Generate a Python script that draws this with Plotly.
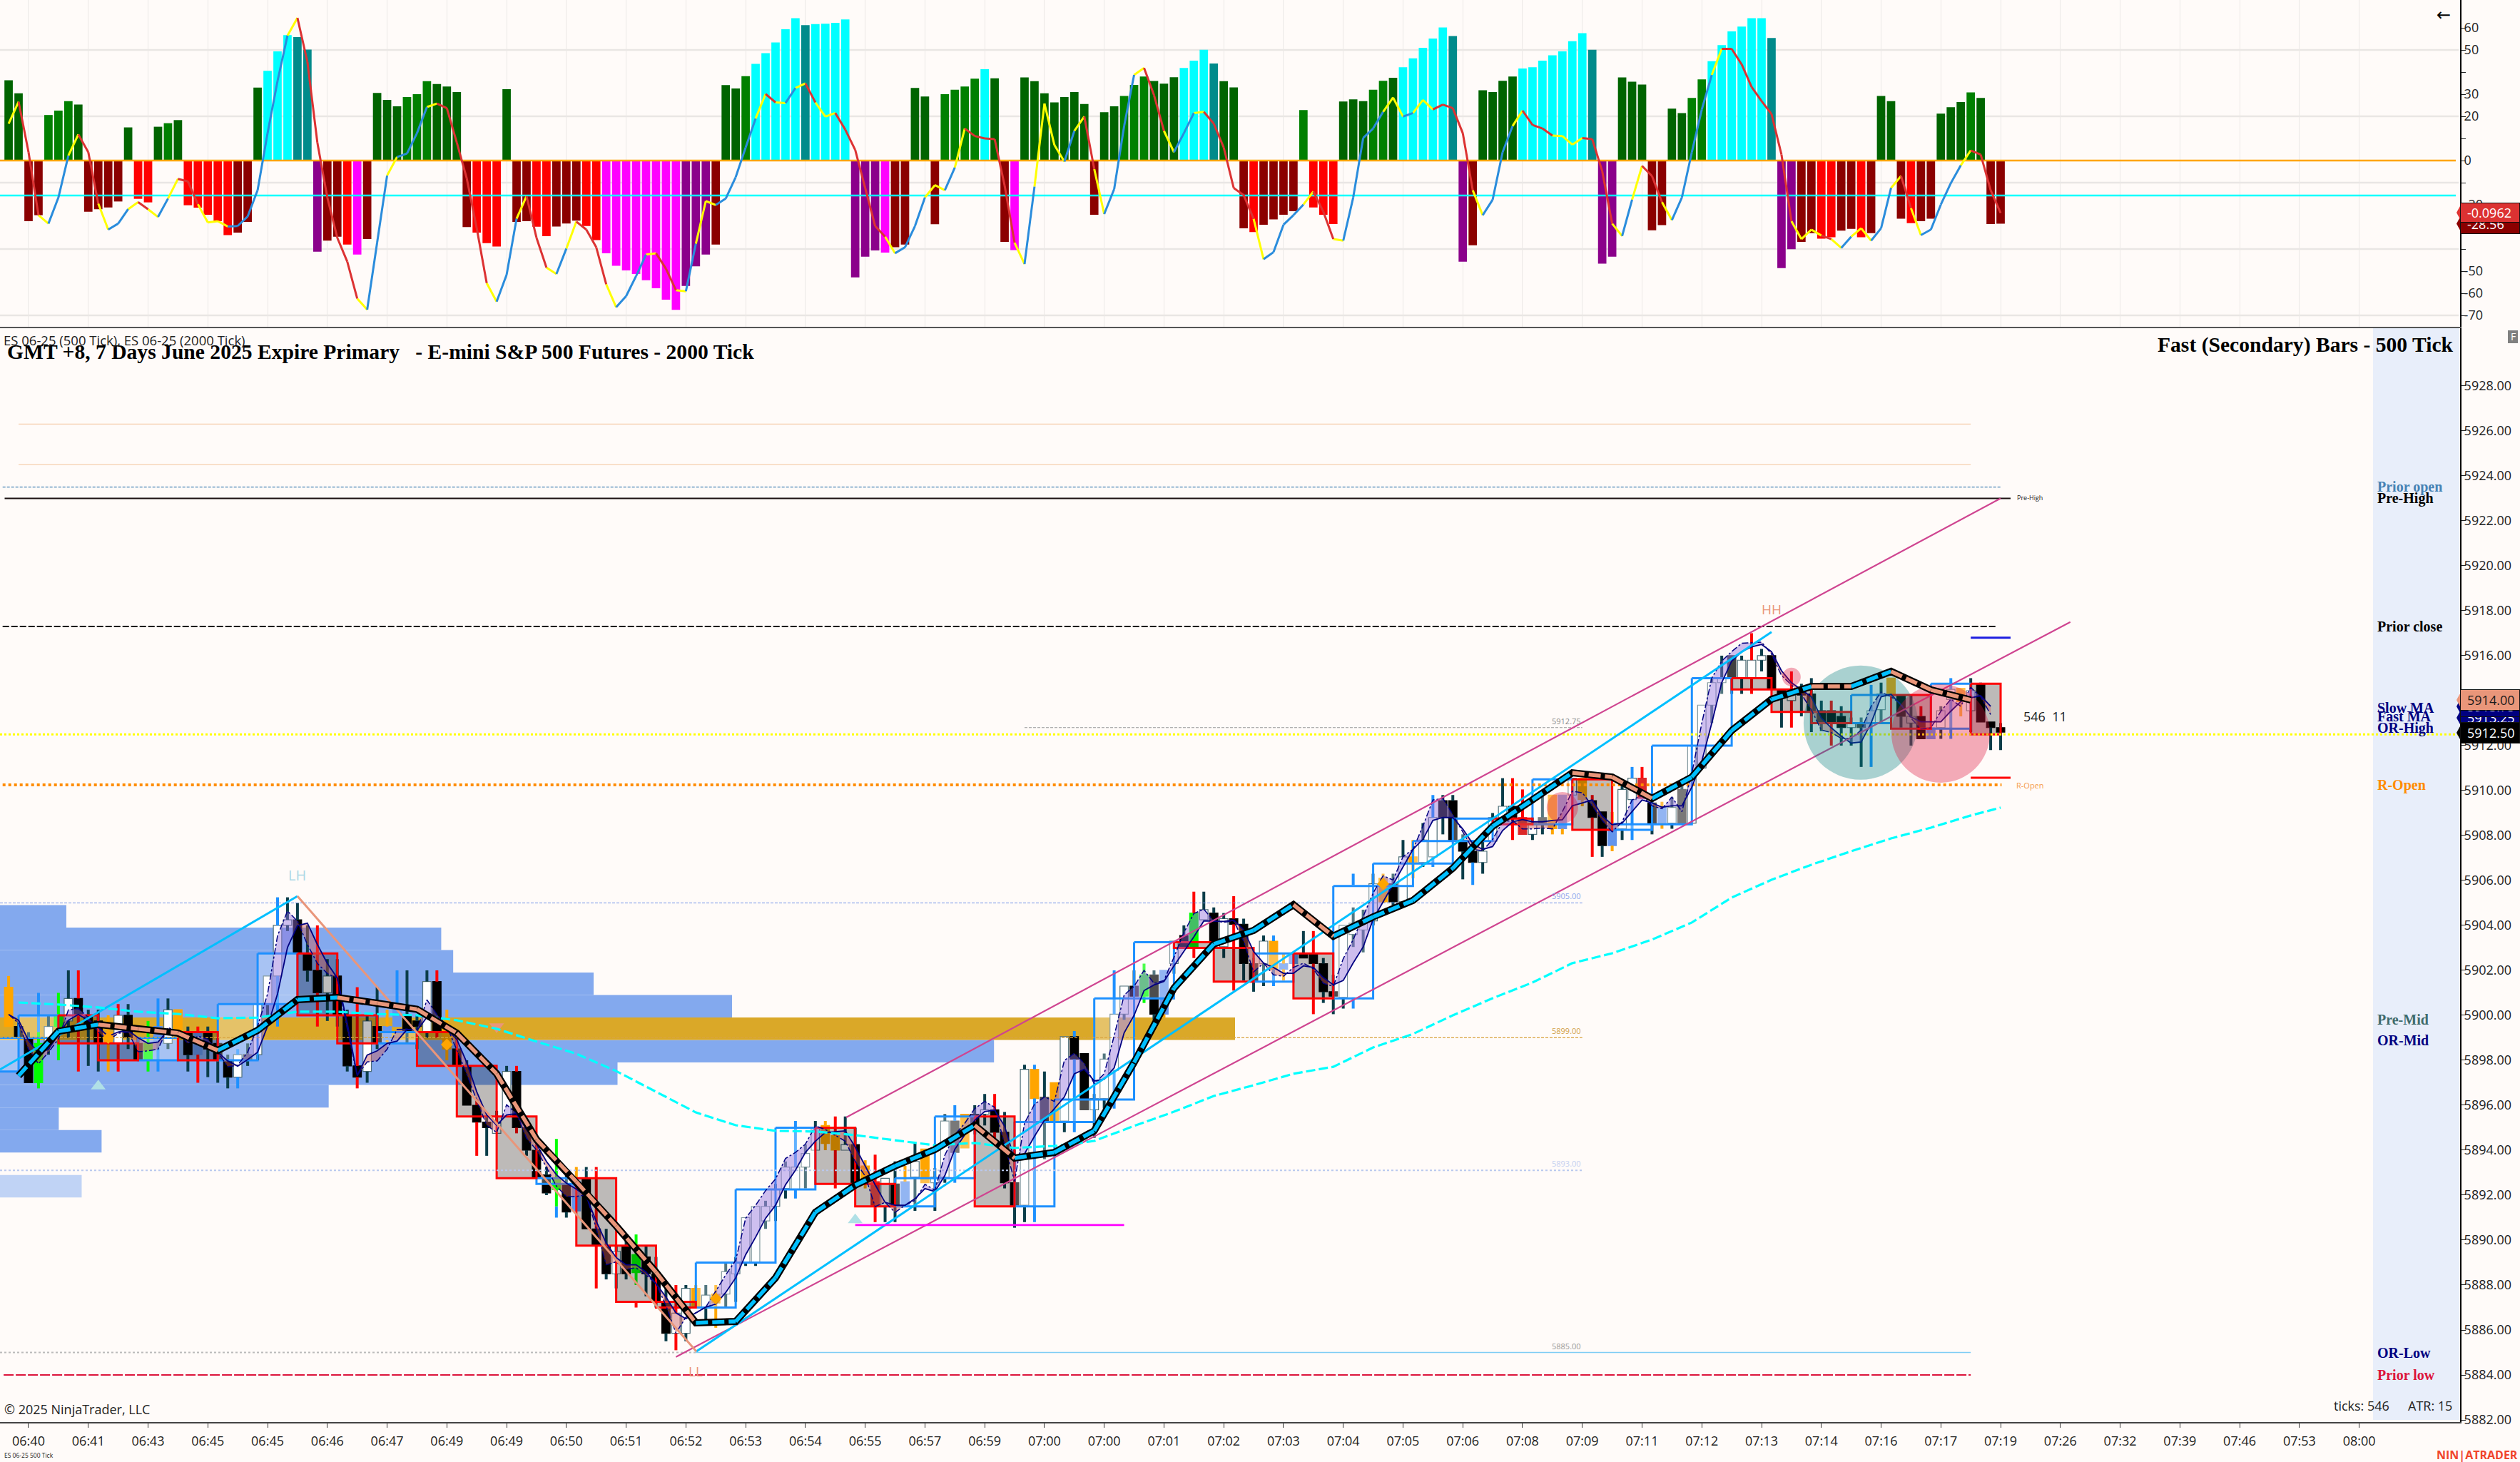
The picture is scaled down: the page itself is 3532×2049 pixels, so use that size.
import plotly.graph_objects as go

# ---------- indicator panel ----------
first_bar = -2
hist_vals = [
36.3,30.4,-27.4,-24.7,20.6,22.6,26.9,25.3,-23.1,-22,
-21.2,-18.5,15,-17.3,-18.9,15.3,16.9,18.3,-20.2,-21.3,
-24.5,-27.4,-33.7,-32.6,-27.7,33,40.6,49.4,56.7,55.8,
50.2,-41.2,-36.2,-34.4,-38,-42.5,-35.5,30.6,27.4,24.5,
28.7,30,35.9,34.6,33.5,31,-30.1,-32.6,-37.3,-38.9,
32.3,-27.7,-27.4,-29.9,-34.2,-29.8,-28.5,-27.2,-29.6,-36,
-41.9,-47.6,-49.7,-51.3,-54.1,-57.7,-62.9,-67.5,-56.7,-47.8,
-42.5,-38,34.1,32.6,38.2,43.7,48.6,53.4,59.4,64.4,
61.2,61.7,61.9,62.3,63.8,-52.8,-43.5,-40.6,-41.6,-39.2,
-38,32.8,29,-28.8,30,32,33.5,37,41.3,37.2,
-36.8,-40.5,37.6,35.9,30.4,26.3,28.7,31,25.6,-24.5,
21.9,24.5,29.2,34.2,38,36,34.8,37.7,41.9,45.2,
50.1,43.9,35.9,33.1,-30.6,-32.3,-29,-26.6,-24.5,-22.9,
22.8,-21.2,-24.5,-28.7,26.7,27.7,26.9,32,36.1,37.4,
42.2,46.2,51,55.2,60.2,56.3,-45.7,-38.3,31.8,31,
36.1,38,41.6,42.2,45.2,47.6,49.4,54,57.6,50.1,
-46.6,-43.5,37.6,35.7,34.4,-31.5,-29.2,23.5,21.5,28.3,
36.7,44.9,52.2,58.4,60.6,64.4,64.4,55.4,-48.6,-40.1,
-36.8,-32.8,-35.3,-34.7,-31.7,-30.9,-34.7,-32.8,29.2,26.9,
-26.3,-28.3,-27.4,-26.3,21.2,24.1,26.5,30.8,28.3,-28.7,-28.56]
hist_codes = ("DDRRGGGDRR" "RRDEEDGDEE" "EEERRDCCCT" "TPRREMRDDD" "GGGDDDREEE"
              "DRREERRREE" "MMMMMMMMPP" "PRDDGCCCCC" "TCCCCPPPMR" "RDDRGGGGCD"
              "RMDDDDDDDR" "DDGGGDDDCC" "CTDDRERRRR" "GEEEDDDGGD" "CCCCCTPRDD"
              "DDCCCCCCCT" "PPDDDRRDDG" "GCCCCCCTPP" "RREERRERDD" "RERRDDDGDRR")
osc_vals = [
16.7,26.6,3.8,-24.7,-28.5,-16.7,2.2,11.8,3.8,-19.4,
-31.2,-28.5,-22,-18.8,-22,-25.5,-17.2,-8.3,-9.4,-19.7,
-28,-27.4,-29.8,-29.6,-25.3,-13.4,12.4,36,56.5,64.5,
44.6,8.1,-16.7,-34.9,-45.7,-62.4,-67.4,-37.1,-6.8,1.6,
3.2,12.4,24.2,25.8,23.7,8.1,-8.1,-30.6,-55.4,-63.8,
-51.6,-26.3,-16.1,-34.9,-48.4,-51.3,-39.8,-27.6,-31.2,-39.2,
-55.9,-66.3,-61.3,-52.2,-42.5,-41.9,-48.9,-58.6,-59.1,-37.6,
-18.3,-20.1,-17.2,-7.5,5.9,19,30.1,26.3,26,32.8,
34.9,26.3,19.9,21.5,14,4.8,-12.4,-29.6,-34.4,-41.9,
-39.2,-29.6,-16.7,-11.1,-13.4,-3.2,14.5,11.1,10,9.7,
-11.3,-37.1,-46.8,-11.8,25.8,7,-0.5,13.4,19.9,-3.8,
-24.2,-12.9,15.6,38.7,41.9,29.6,13.4,3.8,12.4,21.5,
22,16.7,5.9,-12.4,-15.6,-26.3,-44.6,-41.4,-29,-24.7,
-19.9,-14,-23.1,-35.5,-36.2,-16.7,10.2,14.5,22,28.5,
19.9,21.5,27.4,23.1,25.3,23.7,12.4,-13.4,-24.7,-17.7,
3.8,15.6,22.6,16.1,14.5,11.3,11.1,7.2,10.2,9.7,
-4.8,-28.5,-34.1,-17.7,-2.4,-7,-18.8,-26.9,-16.7,3.8,
23.1,38.7,50.5,50.5,43.5,33.3,26.9,21,2.7,-27.4,
-35.5,-31.2,-33.9,-35.5,-39.5,-34.4,-30.6,-36.2,-30.6,-12.4,
-7,-21.5,-33.7,-31.2,-19.9,-10.2,-2.2,4.6,2.7,-13.4,-23.7]
osc_segments = ("YOOYBBYOOY" "BBYOYBYOOY" "YYBBBBBBYO" "OOOOOYBBYB" "BBYOOOOOYB"
                "BYOOYBYOOO" "YBBBYOOYBY" "YBBBBYOYBY" "OYYOOOOOYB" "BBYYBYOOOO"
                "OYBYYYBYOY" "BBBYOOYBBY" "OOOOOYBBBB" "YOOYBBBBYY" "BYYOOOOYBB"
                "BYOOOYYYOO" "OYBYOOYBBB" "BYOOOOOOOY" "YYOYBYYBBY" "OYBBBBYOOO")
osc_grid_levels = [50, 20, -10, -40, -70]
osc_tick_vals = [60, 50, 40, 30, 20, 10, 0, -10, -20, -30, -40, -50, -60, -70]
osc_tick_text = ["60", "50", "", "30", "20", "", "0", "", "-20", "-30", "", "-50", "-60", "-70"]
osc_zero = 0
osc_cyan_level = -15.8

# ---------- fast (500 tick) candles ----------
body_top = [
5901.25,5899.5,5899,5898.75,5899.5,5900,5900.75,5900.75,5900,5899.75,
5899.25,5900,5900,5898.75,5898.75,5899.5,5900.25,5900.25,5899.25,5899.25,
5899.25,5898.75,5898,5898.25,5898.25,5900.5,5901.75,5904,5904.25,5904.25,
5902.75,5902,5901.75,5901.75,5900,5897.75,5899.75,5899.5,5899.5,5900.25,
5900,5899.75,5901.5,5901.5,5899.5,5898.5,5897.75,5896,5895.25,5895.25,
5897.5,5897.5,5895,5894,5892.9,5892.75,5892.5,5892.6,5892.75,5890.5,
5889.75,5889.5,5889.75,5889.35,5889.25,5888.5,5887.25,5886.75,5887.85,5887.85,
5887.55,5887.6,5888.6,5889,5891,5891.5,5891.5,5892.25,5893.25,5893.25,
5893.85,5895,5895.1,5894.65,5894.25,5894.25,5893.3,5892.6,5892.75,5892.5,
5892.6,5893.5,5894.05,5892.8,5895.3,5895.3,5895.6,5895.6,5895.8,5895.8,
5894.8,5892.55,5897.6,5897.6,5896.35,5897,5899.05,5899.05,5898.3,5896.3,
5898.05,5900.05,5901.3,5901.3,5901.8,5901.8,5902,5903.3,5903.55,5904.55,
5904.7,5904.55,5904.3,5904.3,5904.05,5902.3,5903.3,5903.3,5902.3,5902.75,
5902.75,5902.75,5902.3,5901.05,5904,5904.1,5904.2,5905.85,5906.1,5905.85,
5907.05,5907.05,5907.8,5908.8,5909.55,5909.55,5907.8,5907.3,5907.3,5908.8,
5909.3,5909.3,5908.8,5908.55,5908.8,5909.8,5909.8,5910.55,5910.55,5909.55,
5909.05,5908.55,5910.05,5910.55,5910.55,5909.45,5909.25,5909.25,5910.05,5912,
5913.8,5914.8,5915,5916,5915.8,5915.8,5916,5916,5914.5,5914.3,
5914.6,5914.3,5913.55,5913.55,5913.3,5913,5913,5913.55,5914.3,5915,
5914.25,5913.3,5913.3,5912.8,5913.55,5914.5,5914.55,5914.45,5914.75,5913.05,5912.8]
body_bot = [
5899.5,5899,5897,5897,5898.75,5899.5,5899.75,5900,5899.5,5898.75,
5898.75,5898.75,5899,5898,5898,5898.75,5898.75,5899.25,5898.25,5898.25,
5898.5,5898,5897.25,5897.25,5898,5898.25,5900.5,5901.75,5904,5902.75,
5902,5901,5901,5900,5897.75,5897.25,5897.5,5898.75,5898.9,5899.5,
5899.25,5899.5,5899.25,5899.25,5898.5,5897.75,5896,5895.25,5895,5894.75,
5895.5,5895,5894,5892.75,5892.1,5892.25,5891.25,5891.3,5890.5,5889.75,
5888.5,5888.5,5888.5,5888.55,5888.5,5887.25,5885.85,5885.85,5885.85,5887,
5887,5887.2,5887.6,5888.5,5889,5889,5890.85,5891.5,5892.3,5892.25,
5893.25,5894,5894.3,5894,5894,5892.5,5892.5,5891.55,5891.5,5891.5,
5891.55,5892.8,5892.55,5892.55,5892.8,5893.9,5894.1,5895.1,5895.6,5894.8,
5892.55,5891.55,5891.55,5896.3,5895.3,5895.3,5895.3,5898.05,5895.8,5895.8,
5896.3,5897.55,5900.05,5900.85,5900.85,5900.05,5900.05,5902.3,5903.05,5903.05,
5904.25,5903.3,5903.05,5904.05,5902.3,5901.55,5902.3,5902.05,5902.05,5902.3,
5902.55,5902.3,5901.05,5900.85,5900.8,5903.6,5903.8,5904.2,5905.05,5905.05,
5905.05,5906.8,5906.8,5907.05,5908.8,5907.8,5907.3,5906.8,5906.8,5907.75,
5908.8,5908.8,5908.05,5908.05,5908.55,5908.3,5908.3,5909.8,5909.6,5908.8,
5907.55,5907.55,5908.3,5909.6,5909.65,5908.55,5908.55,5908.55,5908.55,5908.55,
5911,5913.8,5914.8,5915,5915,5915,5915.8,5914.5,5914.2,5914,
5914.25,5913.5,5913,5913,5912.8,5912.8,5912.8,5913,5913.6,5914.3,
5913.3,5913,5912.3,5912.3,5912.8,5914.05,5913.95,5913.55,5913.05,5912.8,5912.6]
wick_high = [
5901.75,5899.75,5899.25,5899.25,5900,5901,5902,5902,5900.25,5900.25,
5900,5900.5,5900.5,5899,5899.75,5900.75,5900.75,5900.25,5899.5,5899.5,
5899.5,5899,5898.25,5898.5,5898.75,5900.5,5901.75,5905.25,5905.25,5905,
5904,5904,5902.5,5902.5,5900.25,5901.25,5900,5901.25,5900.25,5902,
5902,5900,5902,5902,5900.25,5899.25,5898,5896.25,5895.5,5895.75,
5897.75,5897.75,5895.25,5894.25,5893.25,5894.5,5893,5893.25,5893.25,5893.25,
5890.5,5889.75,5890,5890.25,5889.75,5889.25,5888,5888,5888,5888,
5888,5888,5889,5889.25,5891,5891.5,5891.75,5892.5,5893.5,5895.3,
5894.25,5895.3,5895.3,5895.5,5895.5,5895,5893.55,5893.8,5892.75,5893.5,
5893.3,5894.3,5894.05,5893.2,5895.6,5896,5895.6,5896,5896.5,5896.5,
5895.7,5894,5897.8,5897.8,5897.5,5897,5899.05,5899.3,5898.3,5896.5,
5898.3,5902,5901.3,5902,5902.3,5902,5902,5903.3,5904,5905.5,
5905.5,5904.8,5904.55,5905.3,5904.3,5902.55,5903.55,5903.55,5902.75,5902.75,
5903.75,5903.75,5902.55,5901.8,5904,5904.8,5904.7,5906.3,5906.3,5906.3,
5907.8,5907.8,5908.55,5909.8,5909.8,5909.8,5908.05,5907.5,5907.8,5909,
5910.55,5910.55,5910.05,5908.8,5909.8,5909.8,5909.8,5910.55,5910.55,5909.8,
5909.05,5909.05,5910.3,5911.05,5911.05,5909.65,5909.5,5909.7,5910.3,5912,
5913.8,5915.05,5916,5916,5916,5917,5916.3,5916,5914.5,5915.3,
5914.75,5915,5914,5914,5913.75,5913.25,5913.25,5914.7,5914.8,5915,
5914.25,5914.25,5913.75,5912.8,5913.75,5915,5914.55,5915,5914.8,5913.05,5913]
wick_low = [
5899.5,5899,5897,5896.75,5898.25,5898,5899,5897.5,5897.75,5897.5,
5897.5,5897.5,5898.5,5898,5897.5,5897.5,5898.5,5899.25,5897.5,5897,
5897.25,5897,5896.75,5896.75,5897.75,5898,5900,5899.5,5903.75,5902.75,
5901.5,5899.5,5899.75,5899.5,5897.5,5896.75,5897,5898.5,5898.75,5899.5,
5898.75,5898.5,5899,5899,5898,5897.75,5896,5893.75,5893.75,5894.75,
5895.5,5894.75,5893.75,5892.75,5892,5891.5,5891,5891.3,5890.5,5887.85,
5888.25,5887.85,5888.25,5888,5887.5,5887,5885.5,5885.1,5885.5,5887,
5886.25,5886.1,5887,5887.25,5888.85,5888.85,5890.5,5890.85,5891.85,5891.85,
5892.3,5894,5894,5892.3,5894,5892.5,5892.3,5890.8,5890.8,5890.8,
5891.55,5891.3,5892.55,5891.3,5892.55,5892.55,5894.1,5894.7,5895.1,5894.35,
5892.3,5890.55,5890.8,5890.8,5893.6,5895.3,5894.8,5894.8,5895.8,5894.55,
5895.85,5895.85,5899.8,5900.85,5900.55,5899.8,5899.9,5901.85,5903.05,5902.55,
5904.25,5903.05,5902.55,5901.1,5901.55,5901.05,5901.3,5901.3,5901.55,5902.3,
5902.55,5900.05,5900.55,5900.05,5900.3,5903.04,5902.8,5904,5905,5904.9,
5905.05,5906.1,5906.6,5906.6,5908.05,5907.8,5906.05,5905.8,5906.3,5907.75,
5908.55,5907.8,5908.05,5907.8,5908.05,5908.05,5908.05,5909.8,5909.3,5907.05,
5907.05,5907.3,5907.8,5907.8,5909.65,5908.05,5908.3,5908.3,5908.55,5908.55,
5911,5913,5914.3,5914.3,5914.3,5914.3,5915.3,5914.5,5912.8,5912.8,
5913.3,5912.6,5912.65,5912,5912,5912,5911.05,5911.05,5913,5914.3,
5912.8,5912,5912.3,5912.3,5912.3,5912.3,5913.3,5912.6,5913.05,5911.8,5911.8]
body_codes = ("OKKGWGWKKK" "OWKKGBWOKB" "KKKWDWWWWK" "KKWKKKWKBB" "KKWKOKKKKW"
              "WKKKKGKBKK" "KWKGKKKWWO" "WOWWWWWWWW" "WWOOWKORWK" "BWOWWDOKWK"
              "KKWODOWKKW" "WWWKGKBWKG" "WKWKKKWOBB" "KKKKWWWWOK" "WOWWKKKKWW"
              "WKRWDOBWOK" "KBWWRKBWDW" "WWWDWWWKKW" "KKKKKWDWWO" "KWKBWWOWKKK")
wick_codes = ("ottgtgtrtt" "orttgbtotr" "tttbtttbtt" "trtttrttob" "tttrottrtt"
              "trtttgtotr" "tttgtttrto" "totttttttb" "ttorttortt" "otottbottr"
              "tttbtotbtt" "tbttgtottr" "tttrtttbob" "trttttttot" "totbtttbtt"
              "trrttootor" "totbrtottt" "tttttrtttr" "tttrtttbto" "ttrotbotttt")
extra_wick_bar = [1, 53, 61, 133, 133]
extra_wick_low = [5899.25, 5891, 5887, 5905.8, 5900.3]
extra_wick_high = [5901, 5891.5, 5887.3, 5906.3, 5900.8]
extra_wick_code = "bbrbb"

# ---------- primary (2000 tick) boxes ----------
box_first = -5
box_top = [5899,5900,5900,5898.75,5899,5899.25,5900.5,5902.75,5902.75,5900,5899.25,5899.25,5897.75,
           5895.5,5892.75,5892.75,5889.75,5887.25,5889,5892.25,5895,5895,5892.5,5892.75,5895.5,5895.5,
           5895.25,5896.25,5900.75,5903.25,5903.25,5903,5902.75,5902.75,5905.75,5906.75,5907.75,5908.75,
           5908.75,5910.5,5910.5,5908.5,5912,5915,5915,5914.5,5913.5,5914.25,5914.25,5914.75,5914.75]
box_bot = [5897.5,5899,5898.75,5898,5898,5898,5898,5900.5,5900,5898.75,5898.75,5897.75,5895.5,
           5892.75,5892.5,5889.75,5887.25,5887,5887,5889,5892.25,5892.5,5891.5,5891.5,5892.75,5891.5,
           5891.5,5895.25,5896.25,5900.75,5903,5901.5,5901.5,5900.75,5900.75,5905.75,5906.75,5907.75,
           5908.5,5908.5,5908.25,5908.25,5908.5,5912,5914.5,5913.5,5913,5913,5912.75,5912.75,5912.5]
box_codes = "BBRRBRBBRRBRRRBRRRBBBRRBBRBBBBRRBRBBBBRBRBBBRRRBRBR"
last_bar = 198

# ---------- moving averages ----------
ma_first = -1
fast_ma = [5897.31,5899.29,5899.59,5899.40,5899.21,5898.44,5899.33,5900.70,5900.79,5900.54,5900.27,
           5899.21,5897.40,5894.48,5892.60,5890.63,5888.57,5886.32,5886.38,5888.32,5891.24,5892.44,
           5893.30,5894.03,5895.11,5893.65,5893.90,5894.86,5897.90,5901.21,5903.17,5903.78,5904.92,
           5903.52,5904.38,5905.11,5906.54,5908.41,5909.59,5910.79,5910.60,5909.65,5910.60,5912.67,
           5914.06,5914.63,5914.63,5915.30,5914.48,5914.03]
slow_ma = [5900.57,5900.48,5900.35,5900.16,5900.06,5899.87,5899.90,5900.16,5900.16,5900.06,5900.00,
           5899.78,5899.40,5898.83,5898.29,5897.52,5896.60,5895.68,5895.11,5894.86,5894.83,5894.67,
           5894.44,5894.22,5894.32,5894.10,5894.19,5894.41,5895.08,5895.71,5896.41,5896.89,5897.40,
           5897.71,5898.57,5899.17,5900.00,5900.76,5901.46,5902.32,5902.76,5903.37,5904.13,5905.24,
           5906.03,5906.70,5907.30,5907.87,5908.35,5908.89]
slow_ma_last = 5909.24

band_dash = [
5900.04,5899.65,5898.49,5897.84,5898.36,5898.94,5900.24,5900.3,5899.91,5899.26,
5898.88,5899.2,5899.26,5898.38,5898.42,5898.49,5899.46,5899.26,5898.75,5899.07,
5898.94,5898.36,5897.71,5897.78,5898.36,5899.52,5900.95,5903.54,5904.64,5904.19,
5903.15,5902.31,5901.86,5901.66,5899.39,5897.32,5897.93,5897.97,5898.49,5899.37,
5899.39,5899.33,5900.69,5900.04,5899.52,
5898.48,5897.38,5896.22,5895.11,5894.79,5896.02,5895.63,5894.53,5894.01,5893.24,
5892.4,5891.94,5891.94,5892.01,5890.52,5888.9,5889.03,5888.7,5888.77,5888.45,
5888.06,5887.09,5885.86,5886.57,5886.76,5887.02,5887.73,5888.45,5889.1,5890.97,
5891.55,5892.2,5892.72,5893.63,5893.9,5894.27,5895.08,5894.92,5894.66,5894.4,
5893.5,5892.85,5891.49,5891.68,5891.23,5891.55,
5891.77,5892.48,5892.22,5893.78,5894.68,5895.2,5895.85,5896.17,5895.91,5894.3,
5892.61,5895.2,5896.04,5896.37,5896.17,5897.99,5898.31,5897.86,5896.95,5897.4,
5899.09,5900.9,5901.29,5902.0,5901.42,5901.55,5902.58,5903.68,5904.53,5904.72,
5904.2,5904.14,5904.2,5903.3,5901.93,5902.32,5901.8,5901.74,5902.13,5902.32,
5902.07,5901.42,
5901.29,5902.52,5903.37,5904.4,5905.44,5906.21,5906.02,5907.06,5907.38,5908.42,
5909.58,5909.65,5908.93,5908.16,5907.38,5907.32,5907.83,5908.61,5908.67,5908.29,
5908.29,5908.33,5908.29,5909.06,5909.97,5909.9,5909.32,5908.67,5908.16,5908.61,
5909.58,5909.78,5909.32,5909.19,5909.71,5909.06,
5910.78,5913.0,5915.0,5915.76,5916.18,5916.55,5916.58,5916.6,5916.07,5915.12,
5914.7,5914.28,5913.59,5912.69,5912.58,5912.32,5912.32,5912.69,5913.75,5914.38,
5914.17,5913.85,5913.22,5912.74,5912.79,5913.53,5914.06,5913.75,5914.59,5914.17,5913.38]
band_solid = [
5900.04,5899.78,5898.88,5898.3,5898.49,5899.14,5899.78,5900.04,5899.78,5899.46,
5899.07,5899.26,5899.33,5899.0,5898.75,5898.81,5899.33,5899.26,5898.88,5898.94,
5898.81,5898.36,5897.97,5897.74,5898.03,5898.36,5899.52,5900.95,5903.02,5903.99,
5904.1,5903.15,5902.31,5901.66,5899.65,5897.32,5898.23,5898.42,5898.75,5898.85,
5899.37,5899.33,5899.91,5899.78,5899.39,
5898.93,5897.9,5896.6,5895.57,5895.11,5895.57,5895.63,5894.92,5894.27,5893.5,
5892.91,5892.53,5892.27,5891.94,5890.84,5889.87,5889.22,5888.9,5888.9,5888.58,
5888.06,5887.47,5886.76,5886.5,5886.76,5887.02,5887.15,5887.67,5888.32,5889.35,
5890.13,5890.97,5891.55,5892.46,5893.11,5893.9,5894.4,5894.79,5894.82,5894.86,
5894.14,5893.3,5892.46,5891.68,5891.55,5891.55,
5891.84,5892.29,5892.16,5892.87,5894.04,5894.68,5895.33,5895.72,5895.78,5895.07,
5893.58,5893.84,5894.62,5895.33,5895.85,5896.37,5897.4,5897.6,5897.08,5897.15,
5897.66,5899.22,5900.0,5901.1,5901.35,5901.51,5902.2,5902.84,5903.49,5904.2,
5904.2,5904.18,5904.24,5903.81,5902.84,5902.32,5902.13,5901.87,5901.87,5902.2,
5902.13,5901.68,
5901.36,5901.55,5902.33,5903.04,5904.27,5905.05,5905.83,5906.6,5907.38,5907.83,
5908.67,5908.8,5908.8,5908.29,5907.64,5907.38,5907.51,5908.22,5908.61,5908.71,
5908.61,5908.61,5908.67,5908.7,5909.32,5909.45,5909.58,5908.87,5908.48,5908.55,
5909.06,5909.58,5909.45,5909.26,5909.32,5909.32,
5910.15,5911.31,5913.0,5914.8,5915.76,5916.18,5916.39,5916.5,5916.18,5915.33,
5914.8,5914.49,5914.17,5913.22,5912.79,5912.42,5912.11,5912.16,5913.0,5914.17,
5914.28,5913.8,5913.27,5913.06,5913.06,5913.06,5913.53,5913.96,5914.12,5914.22,5913.75]

# ---------- volume profile ----------
profile_top = [5904.9,5903.9,5902.9,5901.9,5900.9,5898.9,5897.9,5896.9,5895.9,5894.9]
profile_bars = [6.66,44.3,45.5,59.6,73.5,99.8,62,33,5.9,10.2]
poc_top, poc_bars = 5899.9, 124
low_node_top, low_node_bars = 5892.9, 8.2

# ---------- levels: price, from bar, to bar, colour, width, dash ----------
lvl_price = [5926.3,5924.5,5923.5,5923.0,5917.3,5912.8,5905.0,5899.0,5893.1,5885.0,5885.0,5884.0,5910.25,5912.5]
lvl_from  = [-1,-1,-2.6,-2.4,-2.6,100,-2.865,-2.865,-2.865,-2.865,67,-2.5,-2.6,-2.865]
lvl_to    = [195,195,198,199,197.5,156,156,156,156,67,195,195,198.1,244]
lvl_color = ["#f6cfae","#f6cfae","#4682b4","#1a1010","#000000","#999999","#6f90e6","#d9a441","#b9c8ee",
             "#bbbbbb","#7fcdf5","#dc143c","#ff8c00","#ffff00"]
lvl_width = [1.2,1.2,1.2,2,2,1,1,1.2,2,2,1.5,2,4,3]
lvl_dash  = ["solid","solid","4px,2px","solid","9px,3px","4px,2px","4px,2px","4px,2px","dot","dot","solid","14px,3px","dot","dot"]
lvl_text = ["5912.75","5905.00","5899.00","5893.00","5885.00"]
lvl_text_price = [5912.8,5905.0,5899.0,5893.1,5885.0]
lvl_text_color = ["#8c8c8c","#8fa9ee","#d2a04a","#c3cff0","#9a9a9a"]

channel_upper_x, channel_upper_y = [82.1,198], [5895.46,5923]
channel_lower_x, channel_lower_y = [65,205], [5884.8,5917.5]
trend1_x, trend1_y = [-2.865,27], [5897.59,5905.3]
trend2_x, trend2_y = [67.05,175], [5885.05,5917.05]
fall_x, fall_y = [27,67.05], [5905.3,5885.05]
mag_x, mag_y = [83,110], [5890.67,5890.67]
stop_x = [195,199]
stop_blue, stop_red = 5916.8, 5910.57

circle_x = [183.95,191.98,177,154]
circle_y = [5913.02,5912.54,5915.05,5909.24]
circle_d = [160,138,26,44]
circle_c = ["rgba(0,128,128,0.48)","rgba(220,20,60,0.5)","rgba(220,20,60,0.5)","rgba(220,20,60,0.5)"]
tri_up_x, tri_up_y = [7,83], [5896.85,5890.9]
tri_dn_x, tri_dn_y = [47,], [5899.5,]
diamond_x = [8,42,69,136]
diamond_y = [5899.0,5898.7,5887.4,5905.85]

time_labels = ["06:40","06:41","06:43","06:45","06:45","06:46","06:47","06:49","06:49","06:50","06:51",
               "06:52","06:53","06:54","06:55","06:57","06:59","07:00","07:00","07:01","07:02","07:03",
               "07:04","07:05","07:06","07:08","07:09","07:11","07:12","07:13","07:14","07:16","07:17",
               "07:19","07:26","07:32","07:39","07:46","07:53","08:00"]
time_tick_step = 6
price_ticks = list(range(5882, 5930, 2))

side_text = ["Prior open","Pre-High","Prior close","Slow MA","Fast MA","OR-High","R-Open","Pre-Mid","OR-Mid","OR-Low","Prior low"]
side_price = [5923.5,5923.0,5917.3,5913.68,5913.3,5912.79,5910.25,5899.8,5898.9,5885.0,5884.0]
side_color = ["#4682b4","#000000","#000000","#000080","#000080","#000080","#ff8c00","#3f6b6b","#000080","#000080","#dc143c"]

flag_text = ["-28.56","-0.0962","5913.25","5913.75","5914.00","5912.50"]
flag_fill = ["#8b0000","#dc3232","#000080","#000080","#e9967a","#000000"]
flag_font = ["#ffffff","#ffffff","#ffffff","#ffffff","#1a1a1a","#ffffff"]
flag_ypx = [313.5,298,1006,990,981,1027]
flag_h = [27,26,28,28,28,28]

assert len(hist_vals) == 201 and len(hist_codes) == 201 and len(osc_vals) == 201
assert len(osc_segments) == 200
for a in (body_top, body_bot, wick_high, wick_low):
    assert len(a) == 201, len(a)
assert len(body_codes) == 201 and len(wick_codes) == 201
assert len(band_dash) == 200, len(band_dash)
assert len(band_solid) == 200, len(band_solid)
assert len(box_top) == len(box_bot) == len(box_codes), (len(box_top), len(box_bot), len(box_codes))

# ---------- styles ----------
BG = "#fffbf9"
HIST = dict(D="#006400", G="#008000", R="#8b0000", E="#ff0000", M="#ff00ff", P="#8b008b", C="#00ffff", T="#008b8b")
OSC = dict(Y="#ffff00", O="#dc3232", B="#2a8cdc")
BODY = dict(K="#000000", W="#ffffff", O="#ffa500", G="#00ff00", B="#6495ed", R="#dc2828", D="#404040")
WICK = dict(t="#0b3d49", r="#ff0000", b="#1e90ff", g="#00ff00", o="#ffa500")
W, H, PLOT_W, PLOT_H = 3532, 2049, 3448, 1993
SANS = "Open Sans, sans-serif"
SERIF = "Liberation Serif, serif"
bars = list(range(first_bar, first_bar + 201))
XR = [-2.865, 244.13]


def px(xp):
    return xp / PLOT_W


def py(yp):
    return (PLOT_H - yp) / PLOT_H


fig = go.Figure()
M = dict(xaxis="x", yaxis="y", hoverinfo="skip", showlegend=False)
O_ = dict(xaxis="x2", yaxis="y2", hoverinfo="skip", showlegend=False)

# indicator panel
fig.add_bar(x=bars, y=hist_vals, width=0.84, marker=dict(color=[HIST[c] for c in hist_codes], line_width=0), **O_)
fig.add_scatter(x=[XR[0], 243.7], y=[osc_cyan_level] * 2, mode="lines", line=dict(color="#00ffff", width=2.4), **O_)
fig.add_scatter(x=[XR[0], 243.7], y=[osc_zero] * 2, mode="lines", line=dict(color="#ffa500", width=2.6), **O_)
for code, col in OSC.items():
    xs, ys = [], []
    for k, c in enumerate(osc_segments):
        if c == code:
            xs += [bars[k], bars[k + 1], None]
            ys += [osc_vals[k], osc_vals[k + 1], None]
    fig.add_scatter(x=xs, y=ys, mode="lines", line=dict(color=col, width=3), **O_)

# candle bodies
fig.add_bar(x=bars, y=[t - b for t, b in zip(body_top, body_bot)], base=body_bot, width=0.84,
            marker=dict(color=[BODY[c] for c in body_codes],
                        line=dict(color=["#4f6f78" if c == "W" else BODY[c] for c in body_codes], width=1.2)), **M)
# wicks (either side of the body)
for code, col in WICK.items():
    xs, ys = [], []
    for k, c in enumerate(wick_codes):
        if c == code:
            if wick_high[k] > body_top[k]:
                xs += [bars[k], bars[k], None]
                ys += [wick_high[k], body_top[k], None]
            if wick_low[k] < body_bot[k]:
                xs += [bars[k], bars[k], None]
                ys += [body_bot[k], wick_low[k], None]
    for k, c in enumerate(extra_wick_code):
        if c == code:
            xs += [extra_wick_bar[k], extra_wick_bar[k], None]
            ys += [extra_wick_low[k], extra_wick_high[k], None]
    fig.add_scatter(x=xs, y=ys, mode="lines", line=dict(color=col, width=4), **M)

# 2000 tick boxes
for code, fill, col in (("B", "rgba(255,255,255,0.3)", "#1e90ff"), ("R", "rgba(0,0,0,0.26)", "#ff0000")):
    xs, ys = [], []
    for k, c in enumerate(box_codes):
        if c == code:
            a = box_first + 4 * k
            b = min(a + 4, last_bar)
            xs += [a, b, b, a, a, None]
            ys += [box_top[k], box_top[k], box_bot[k], box_bot[k], box_top[k], None]
    fig.add_scatter(x=xs, y=ys, mode="lines", fill="toself", fillcolor=fill, line=dict(color=col, width=3), **M)

# levels
for p, a, b, c, w, d in zip(lvl_price, lvl_from, lvl_to, lvl_color, lvl_width, lvl_dash):
    fig.add_scatter(x=[a, b], y=[p, p], mode="lines", line=dict(color=c, width=w, dash=d), **M)

# purple / salmon band
band_x = bars[:200]
for rising, fill in ((True, "rgba(147,112,219,0.45)"), (False, "rgba(205,92,92,0.45)")):
    xs, ys = [], []
    for k in range(199):
        up = band_dash[k] + band_dash[k + 1] >= band_solid[k] + band_solid[k + 1]
        if up == rising:
            xs += [band_x[k], band_x[k + 1], band_x[k + 1], band_x[k], band_x[k], None]
            ys += [band_dash[k], band_dash[k + 1], band_solid[k + 1], band_solid[k], band_dash[k], None]
    fig.add_scatter(x=xs, y=ys, mode="lines", fill="toself", fillcolor=fill, line=dict(width=0), **M)
fig.add_scatter(x=band_x, y=band_dash, mode="lines", line=dict(color="#000080", width=1.5, dash="dashdot"), **M)
fig.add_scatter(x=band_x, y=band_solid, mode="lines", line=dict(color="#000080", width=1.8), **M)

# channel and swing lines
for xs, ys, c, w in ((channel_upper_x, channel_upper_y, "#cf4490", 2.2), (channel_lower_x, channel_lower_y, "#cf4490", 2.2),
                     (trend1_x, trend1_y, "#00bfff", 3), (trend2_x, trend2_y, "#00bfff", 3),
                     (fall_x, fall_y, "#e9967a", 3), (mag_x, mag_y, "#ff00ff", 2.6),
                     (stop_x, [stop_blue] * 2, "#1c1ce0", 3), (stop_x, [stop_red] * 2, "#ff0000", 3)):
    fig.add_scatter(x=xs, y=ys, mode="lines", line=dict(color=c, width=w), **M)

# circles, markers
fig.add_scatter(x=circle_x, y=circle_y, mode="markers",
                marker=dict(size=circle_d, color=circle_c, line_width=0), **M)
fig.add_scatter(x=tri_up_x, y=tri_up_y, mode="markers", marker=dict(symbol="triangle-up", size=18, color="#b0e0e6", line_width=0), **M)
fig.add_scatter(x=tri_dn_x, y=tri_dn_y, mode="markers", marker=dict(symbol="triangle-down", size=18, color="#e9967a", line_width=0), **M)
fig.add_scatter(x=diamond_x, y=diamond_y, mode="markers", marker=dict(symbol="diamond", size=13, color="#ffa500", line_width=0), **M)

# slow MA
slow_x = [ma_first + 4 * k for k in range(len(slow_ma))] + [last_bar]
fig.add_scatter(x=slow_x, y=slow_ma + [slow_ma_last], mode="lines",
                line=dict(color="#00ffff", width=3.2, dash="13px,5px"), **M)
# fast MA
ma_x = [ma_first + 4 * k for k in range(len(fast_ma))]
fig.add_scatter(x=ma_x, y=fast_ma, mode="lines", line=dict(color="#000000", width=10), **M)
for col, test in (("#00bfff", lambda a, b: b >= a), ("#e9967a", lambda a, b: b < a)):
    xs, ys = [], []
    for k in range(len(fast_ma) - 1):
        a_, b_ = fast_ma[k], fast_ma[k + 1]
        flat = k == 45  # flat leg drawn with the falling colour
        if (test(a_, b_) and not flat) or (flat and col == "#e9967a"):
            xs += [ma_x[k], ma_x[k + 1], None]
            ys += [a_, b_, None]
    fig.add_scatter(x=xs, y=ys, mode="lines", line=dict(color=col, width=5.5, dash="17px,6px"), **M)

# profile and other panel backgrounds
shapes = []
for lv in osc_grid_levels:
    shapes.append(dict(type="line", xref="paper", yref="y2", x0=0, x1=px(3446), y0=lv, y1=lv,
                       line=dict(color="#e9e6e4", width=2.5), layer="below"))
X0 = XR[0]
for top, n in zip(profile_top, profile_bars):
    shapes.append(dict(type="rect", xref="x", yref="y", x0=X0, x1=X0 + n, y0=top - 1, y1=top,
                       fillcolor="#83a9ee", line_width=0, layer="below"))
shapes.append(dict(type="rect", xref="x", yref="y", x0=X0, x1=X0 + poc_bars, y0=poc_top - 1, y1=poc_top,
                   fillcolor="#daa828", line_width=0, layer="below"))
shapes.append(dict(type="rect", xref="x", yref="y", x0=X0, x1=X0 + low_node_bars, y0=low_node_top - 1, y1=low_node_top,
                   fillcolor="#c0d3f5", line_width=0, layer="below"))
shapes.append(dict(type="rect", xref="paper", yref="paper", x0=px(3326), x1=px(3447), y0=py(1990), y1=py(459),
                   fillcolor="#e8eefa", line_width=0, layer="below"))
# price-flag tips
for yp, c in zip(flag_ypx, flag_fill):
    shapes.append(dict(type="path", xref="paper", yref="paper",
                       path=f"M {px(3449)} {py(yp-11)} L {px(3443)} {py(yp)} L {px(3449)} {py(yp+11)} Z",
                       fillcolor=c, line_width=0, layer="above"))
shapes.append(dict(type="rect", xref="paper", yref="paper", x0=px(3515), x1=px(3529), y0=py(481), y1=py(463),
                   fillcolor="#808080", line_width=0))

# text
ann = []


def label(text, x, y, size, color, font=SANS, xanchor="left", yanchor="middle", xref="paper", yref="paper", **kw):
    ann.append(dict(text=text, x=x, y=y, xref=xref, yref=yref, xanchor=xanchor, yanchor=yanchor,
                    showarrow=False, font=dict(family=font, size=size, color=color), **kw))


label("<b>GMT +8, 7 Days June 2025 Expire Primary   - E-mini S&P 500 Futures - 2000 Tick</b>", px(8), py(493), 29.6, "#000", SERIF)
label("<b>Fast (Secondary) Bars - 500 Tick</b>", px(3441), py(484), 29.6, "#000", SERIF, xanchor="right")
label("ES 06-25 (500 Tick), ES 06-25 (2000 Tick)", px(3), py(477), 18.5, "#222")
label("© 2025 NinjaTrader, LLC", px(4), py(1975), 18, "#222")
label("ticks: 546", px(3269), py(1970), 18, "#222")
label("ATR: 15", px(3373), py(1970), 18, "#222")
label("ES 06-25 500 Tick", px(4), py(2040), 8.5, "#222")
label("<b>NIN|ATRADER</b>", px(3531), py(2039), 16, "#f0452c", xanchor="right")
label("546  11", px(2834), py(1004), 18, "#222")
label("R-Open", px(2824), py(1100), 11, "#f59a4a")
label("Pre-High", px(2825), py(698), 9, "#222")
label("←", px(3425), py(21), 24, "#000", "DejaVu Sans", xanchor="center")
label("F", px(3522), py(472), 14, "#fff", xanchor="center")
label("LH", 27, 5906.25, 20, "#add8e6", xanchor="center", xref="x", yref="y")
label("HH", 175, 5918.05, 19, "#e9967a", xanchor="center", xref="x", yref="y")
label("LL", 67, 5884.15, 19, "#e9967a", xanchor="center", xref="x", yref="y")
for t, p, c in zip(lvl_text, lvl_text_price, lvl_text_color):
    label(t, 156, p, 11, c, xanchor="right", yanchor="bottom", xref="x", yref="y")
for t, p, c in zip(side_text, side_price, side_color):
    label(f"<b>{t}</b>", px(3330), p, 20, c, SERIF, yref="y")
for t, fillc, fc, yp, h in zip(flag_text, flag_fill, flag_font, flag_ypx, flag_h):
    ann.append(dict(text="\u2002" + t, x=px(3448), y=py(yp), xref="paper", yref="paper", xanchor="left", yanchor="middle",
                    showarrow=False, width=82, height=h, align="left", valign="middle", bgcolor=fillc,
                    bordercolor="#111111", borderwidth=1, borderpad=0,
                    font=dict(family=SANS, size=18, color=fc)))

fig.update_layout(
    width=W, height=H, autosize=False, margin=dict(l=0, r=W - PLOT_W, t=0, b=H - PLOT_H, pad=0),
    paper_bgcolor=BG, plot_bgcolor=BG, showlegend=False, barmode="overlay", hovermode=False,
    shapes=shapes, annotations=ann,
    xaxis=dict(domain=[0, 1], range=XR, anchor="y", tickmode="array",
               tickvals=[time_tick_step * k for k in range(len(time_labels))], ticktext=time_labels,
               ticks="outside", ticklen=6, tickcolor="#333", showgrid=False, zeroline=False,
               showline=True, linecolor="#444", linewidth=1.5, ticklabelstandoff=4,
               tickfont=dict(family=SANS, size=18, color="#222")),
    yaxis=dict(domain=[0, 1 - 459 / PLOT_H], range=[5881.905, 5930.6], anchor="x", side="right",
               tickmode="array", tickvals=price_ticks, ticktext=[f"{p:.2f}" for p in price_ticks],
               ticks="outside", ticklen=6, tickcolor="#222", showgrid=False, zeroline=False,
               showline=True, linecolor="#000", linewidth=2, ticklabelstandoff=-6,
               tickfont=dict(family=SANS, size=18, color="#222")),
    xaxis2=dict(domain=[0, 1], matches="x", anchor="y2", tickmode="array",
                tickvals=[time_tick_step * k for k in range(len(time_labels))], showticklabels=False,
                ticks="", showgrid=True, gridcolor="#ebe8e6", gridwidth=1, zeroline=False,
                showline=True, linecolor="#555", linewidth=2),
    yaxis2=dict(domain=[1 - 458 / PLOT_H, 1], range=[-75.16, 72.6], anchor="x2", side="right",
                tickmode="array", tickvals=osc_tick_vals, ticktext=osc_tick_text,
                ticks="outside", ticklen=6, tickcolor="#222", showgrid=False, zeroline=False,
                showline=True, linecolor="#000", linewidth=2, ticklabelstandoff=-6,
                tickfont=dict(family=SANS, size=18, color="#222")),
)

fig.write_html("out.html", config=dict(displayModeBar=False),
               post_script="document.body.style.margin='0';document.body.style.background='%s';" % BG)
